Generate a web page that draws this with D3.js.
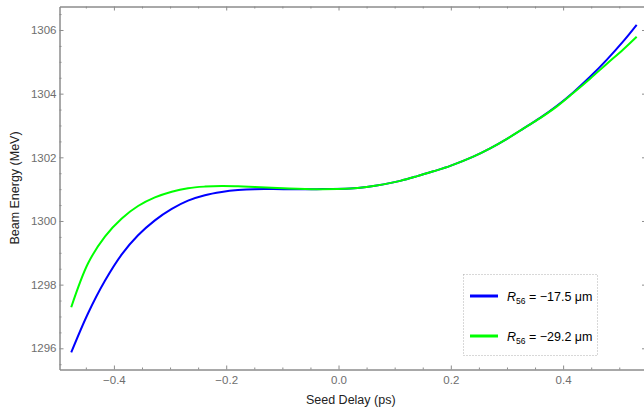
<!DOCTYPE html>
<html>
<head>
<meta charset="utf-8">
<script src="https://cdn.jsdelivr.net/npm/d3@7"></script>
<style>
  body { margin: 0; background: #fff; }
  svg { display: block; font-family: "Liberation Sans", Arial, sans-serif; }
</style>
</head>
<body>
<div id="chart"></div>
<script>
// seed delay (ps) sample positions
const delays = [-0.476, -0.446, -0.416, -0.386, -0.357, -0.327, -0.297, -0.268, -0.238, -0.208,
  -0.179, -0.149, -0.098, -0.039, 0.021, 0.050, 0.080, 0.110, 0.139, 0.169, 0.199,
  0.240, 0.270, 0.300, 0.329, 0.359, 0.389, 0.418, 0.448, 0.478, 0.507, 0.531];

// beam energy (MeV), R56 = -17.5 um
const energyA = [1295.87, 1297.10, 1298.12, 1298.95, 1299.55, 1300.02, 1300.38, 1300.64, 1300.81, 1300.91,
  1300.97, 1301.00, 1301.00, 1301.00, 1301.02, 1301.07, 1301.15, 1301.26, 1301.40, 1301.56, 1301.73,
  1302.02, 1302.28, 1302.58, 1302.90, 1303.24, 1303.62, 1304.04, 1304.53, 1305.07, 1305.64, 1306.16];

// beam energy (MeV), R56 = -29.2 um
const energyB = [1297.29, 1298.67, 1299.51, 1300.08, 1300.47, 1300.74, 1300.92, 1301.03, 1301.08, 1301.10,
  1301.09, 1301.07, 1301.03, 1301.00, 1301.02, 1301.07, 1301.15, 1301.26, 1301.40, 1301.56, 1301.73,
  1302.02, 1302.28, 1302.58, 1302.90, 1303.23, 1303.60, 1304.02, 1304.47, 1304.94, 1305.39, 1305.79];

const xTicks = [-0.4, -0.2, 0.0, 0.2, 0.4];
const yTicks = [1296, 1298, 1300, 1302, 1304, 1306];
const legendR56 = ["\u221217.5", "\u221229.2"];
const colors = ["#0000ff", "#00ff00"];

const width = 644, height = 411;
const plot = { left: 59.5, right: 646, top: 6.5, bottom: 369.5 };

const svg = d3.select("#chart").append("svg")
  .attr("width", width)
  .attr("height", height);

const x = d3.scaleLinear().domain([-0.4969, 0.5476]).range([plot.left, plot.right]);
const y = d3.scaleLinear().domain([1295.334, 1306.738]).range([plot.bottom, plot.top]);

const frameColor = "#8c8c8c", labelColor = "#6e6e6e";
const xMinor = d3.range(-0.45, 0.551, 0.05).filter(v => Math.abs(Math.round(v * 5) - v * 5) > 1e-6);
const yMinor = d3.range(1295.5, 1306.7, 0.5).filter(v => v % 2 !== 0);

function styleAxis(g) {
  g.select(".domain").attr("stroke", frameColor);
  g.selectAll(".tick line").attr("stroke", frameColor);
  g.selectAll(".tick text").attr("fill", labelColor).style("font-size", "11.5px");
}

// bottom
svg.append("g").attr("transform", `translate(0,${plot.bottom})`)
  .call(d3.axisBottom(x).tickValues(xTicks).tickSizeInner(-4).tickSizeOuter(0).tickPadding(6)
    .tickFormat(d => d3.format(".1f")(d).replace("-", "\u2212")))
  .call(styleAxis);
svg.append("g").attr("transform", `translate(0,${plot.bottom})`)
  .call(d3.axisBottom(x).tickValues(xMinor).tickSizeInner(-2).tickSizeOuter(0).tickFormat(""))
  .call(styleAxis);
// top
svg.append("g").attr("transform", `translate(0,${plot.top})`)
  .call(d3.axisTop(x).tickValues(xTicks).tickSizeInner(-4).tickSizeOuter(0).tickFormat(""))
  .call(styleAxis);
svg.append("g").attr("transform", `translate(0,${plot.top})`)
  .call(d3.axisTop(x).tickValues(xMinor).tickSizeInner(-2).tickSizeOuter(0).tickFormat(""))
  .call(styleAxis);
// left
svg.append("g").attr("transform", `translate(${plot.left},0)`)
  .call(d3.axisLeft(y).tickValues(yTicks).tickSizeInner(-4).tickSizeOuter(0).tickPadding(3)
    .tickFormat(d3.format("d")))
  .call(styleAxis);
svg.append("g").attr("transform", `translate(${plot.left},0)`)
  .call(d3.axisLeft(y).tickValues(yMinor).tickSizeInner(-2).tickSizeOuter(0).tickFormat(""))
  .call(styleAxis);
// right (falls just outside the picture)
svg.append("g").attr("transform", `translate(${plot.right},0)`)
  .call(d3.axisRight(y).tickValues(yTicks).tickSizeInner(-4).tickSizeOuter(0).tickFormat(""))
  .call(styleAxis);

// curves
const line = d3.line()
  .x((d, i) => x(delays[i]))
  .y(d => y(d))
  .curve(d3.curveCatmullRom.alpha(0.5));

[energyA, energyB].forEach((s, i) => {
  svg.append("path")
    .datum(s)
    .attr("fill", "none")
    .attr("stroke", colors[i])
    .attr("stroke-width", 2)
    .attr("d", line);
});

// axis titles
svg.append("text")
  .attr("x", (plot.left + plot.right) / 2 - 2)
  .attr("y", 404)
  .attr("text-anchor", "middle")
  .attr("fill", "#222")
  .style("font-size", "12.5px")
  .text("Seed Delay (ps)");

svg.append("text")
  .attr("transform", `translate(19,${(plot.top + plot.bottom) / 2}) rotate(-90)`)
  .attr("text-anchor", "middle")
  .attr("fill", "#222")
  .style("font-size", "12.5px")
  .text("Beam Energy (MeV)");

// legend
const lg = svg.append("g");
lg.append("rect")
  .attr("x", 463.5).attr("y", 274.5)
  .attr("width", 134).attr("height", 81)
  .attr("fill", "#fff")
  .attr("stroke", "#b0b0b0")
  .attr("stroke-dasharray", "1,2");

legendR56.forEach((v, i) => {
  const cy = 296 + i * 40;
  lg.append("line")
    .attr("x1", 470).attr("x2", 498)
    .attr("y1", cy).attr("y2", cy)
    .attr("stroke", colors[i])
    .attr("stroke-width", 3);
  const t = lg.append("text")
    .attr("x", 507).attr("y", cy + 4.5)
    .attr("fill", "#000")
    .style("font-size", "12.5px");
  t.append("tspan").style("font-style", "italic").text("R");
  t.append("tspan").attr("dy", 3).style("font-size", "8.5px").text("56");
  t.append("tspan").attr("dy", -3).text(" = " + v + " \u03bcm");
});
</script>
</body>
</html>
